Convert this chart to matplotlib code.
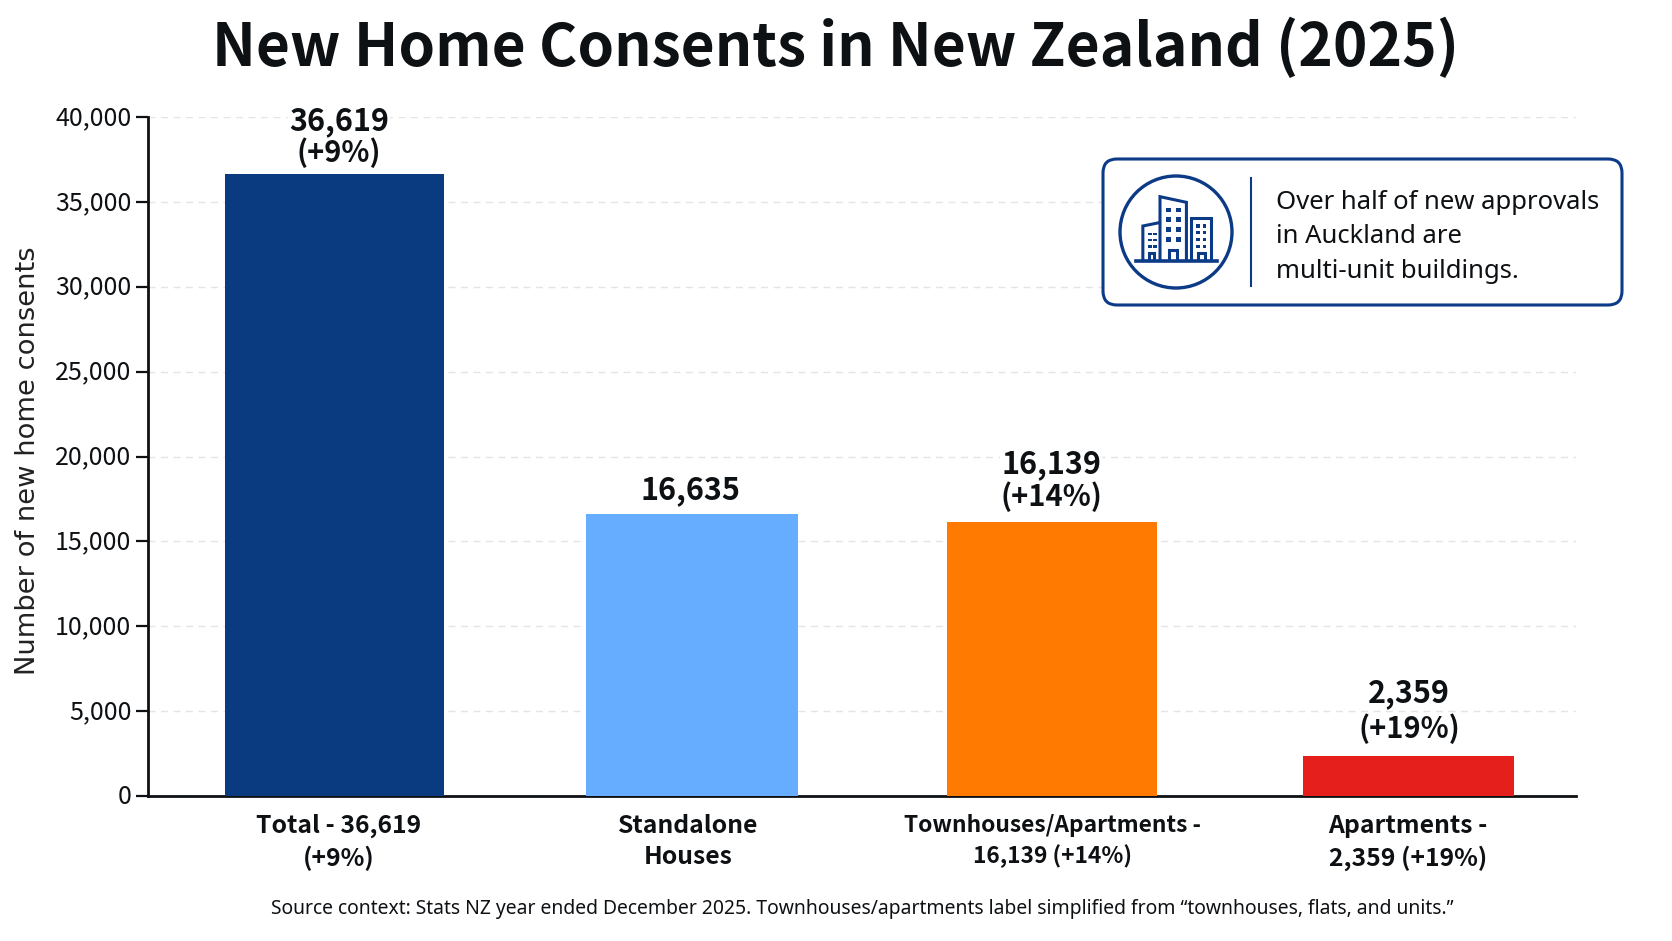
import matplotlib
matplotlib.use("Agg")
import matplotlib.pyplot as plt
from matplotlib.patches import FancyBboxPatch, Circle, Rectangle, Polygon
from matplotlib.transforms import ScaledTranslation

CJK = ['Noto Sans CJK SC', 'DejaVu Sans']
NOTO = ['Noto Sans', 'DejaVu Sans']
plt.rcParams['font.family'] = CJK

# ---- data ----
categories = ["Total - 36,619\n(+9%)", "Standalone\nHouses",
              "Townhouses/Apartments -\n16,139 (+14%)", "Apartments -\n2,359 (+19%)"]
values = [36619, 16635, 16139, 2359]
value_labels = ["36,619", "16,635", "16,139", "2,359"]
change_labels = ["(+9%)", None, "(+14%)", "(+19%)"]
y_ticks = [0, 5000, 10000, 15000, 20000, 25000, 30000, 35000, 40000]

# ---- style / layout (pixels of the 1672x941 canvas) ----
colors = ["#0a3a80", "#66adff", "#ff7a00", "#e5201c"]
W, H = 1672, 941
ax_l, ax_r, ax_t, ax_b = 148, 1576, 117, 796
bar_x = [334.5, 692, 1052, 1408.5]
bar_w = [219, 212, 210, 211]
tick_x = [339, 688, 1053, 1408]
tick_size = [17.8, 17.8, 16.4, 17.8]
label_x = [339, 690, 1051, 1409]
navy = "#0b3a86"
ink = "#0e1114"

fig = plt.figure(figsize=(W/100, H/100), dpi=100, facecolor="white")
ax = fig.add_axes([ax_l/W, 1-ax_b/H, (ax_r-ax_l)/W, (ax_b-ax_t)/H])
ax.set_xlim(ax_l, ax_r)
ax.set_ylim(0, 40000)
ax.bar(bar_x, values, width=bar_w, color=colors, zorder=3)
ax.set_yticks(y_ticks)
ax.set_yticklabels([f"{v:,}" for v in y_ticks], fontsize=18, color=ink)
ax.set_xticks(tick_x)
ax.set_xticklabels(categories, fontweight="bold", color=ink, linespacing=1.36)
for t, s in zip(ax.get_xticklabels(), tick_size):
    t.set_fontsize(s)
ax.tick_params(axis="y", length=9, width=1.6, color=ink, pad=3)
ax.tick_params(axis="x", length=0, pad=13)
up = ScaledTranslation(0, 2/100, fig.dpi_scale_trans)
for t in ax.get_yticklabels():
    t.set_transform(t.get_transform() + up)
ax.grid(axis="y", color="#e4e4e4", lw=1, ls=(0, (5, 4)), zorder=0)
ax.set_axisbelow(True)
for s in ("top", "right"):
    ax.spines[s].set_visible(False)
for s in ("left", "bottom"):
    ax.spines[s].set_linewidth(2)
    ax.spines[s].set_color(ink)
ax.set_ylabel("Number of new home consents", fontsize=19.7, color="#222", family="DejaVu Sans")
ax.yaxis.set_label_coords((41-ax_l)/(ax_r-ax_l), 0.494)

# value labels
main_off = [53, 23, 58, 63]
chg_off = [22, None, 25, 27]
for x, v, lab, chg, m, c in zip(label_x, values, value_labels, change_labels, main_off, chg_off):
    ax.annotate(lab, (x, v), xytext=(0, m*0.72), textcoords="offset points", ha="center", va="center",
                fontsize=22, fontweight="bold", color=ink, zorder=5,
                bbox=dict(fc="white", ec="none", pad=1))
    if chg:
        ax.annotate(chg, (x, v), xytext=(0, c*0.72), textcoords="offset points", ha="center", va="center",
                    fontsize=21, fontweight="bold", color=ink, zorder=5)

# overlay in pixel coordinates
ov = fig.add_axes([0, 0, 1, 1], facecolor="none")
ov.set_xlim(0, W); ov.set_ylim(H, 0); ov.axis("off")

ov.text(836, 48, "New Home Consents in New Zealand (2025)", ha="center", va="center",
        fontsize=42.2, fontweight="bold", color=ink)
ov.text(862, 909, "Source context: Stats NZ year ended December 2025. Townhouses/apartments label simplified from \u201ctownhouses, flats, and units.\u201d",
        ha="center", va="center", fontsize=13.9, color=ink, family=NOTO)

# callout
ov.add_patch(FancyBboxPatch((1103+12, 159+12), 519-24, 146-24, boxstyle="round,pad=12,rounding_size=14",
                            fc="white", ec=navy, lw=2.2, mutation_aspect=1))
ov.add_patch(Circle((1176, 232), 56, fc="none", ec=navy, lw=2.4))
ov.plot([1251, 1251], [178, 286], color=navy, lw=1.5)
for y, t in zip([202, 236, 271], ["Over half of new approvals", "in Auckland are", "multi-unit buildings."]):
    ov.text(1276, y, t, ha="left", va="center", fontsize=18.5, color=ink, family=NOTO)

def zx(v): return 1080 + v/2.8
def zy(v): return 140 + v/3
def poly(pts):
    ov.add_patch(Polygon([(zx(a), zy(b)) for a, b in pts], closed=False, fc="none", ec=navy, lw=2.2, joinstyle="miter"))
def win(a, b, w=10, h=9):
    ov.add_patch(Rectangle((zx(a-w/2), zy(b-h/2)), w/2.8, h/3, fc=navy, ec="none"))
ov.plot([zx(158), zx(384)], [zy(362), zy(362)], color=navy, lw=2.6)
poly([(224, 362), (224, 170), (298, 187), (298, 362)])
poly([(176, 362), (176, 258), (222, 248)])
poly([(311, 362), (311, 234), (367, 234), (367, 362)])
poly([(249, 362), (249, 329), (272, 329), (272, 362)])
poly([(194, 362), (194, 338), (207, 338), (207, 362)])
poly([(329, 362), (329, 340), (349, 340), (349, 362)])
for b in (210, 238, 268, 298):
    for a in (247, 275):
        win(a, b, 13, 14)
for b in (282, 300, 319):
    for a in (195, 210):
        win(a, b, 12, 8)
for b in (258, 278, 298, 319):
    for a in (331, 348):
        win(a, b, 10, 10)

fig.savefig("out.png", dpi=100, facecolor="white")
